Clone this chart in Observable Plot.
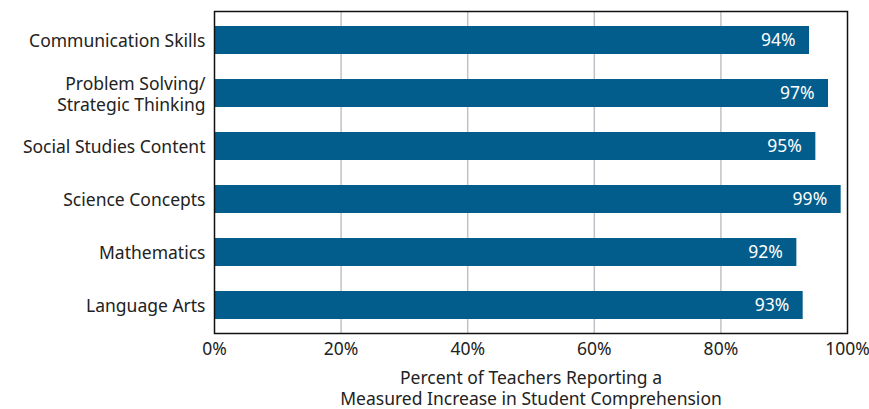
<!DOCTYPE html>
<html>
<head>
<meta charset="utf-8">
<script src="https://cdn.jsdelivr.net/npm/d3@7"></script>
<script src="https://cdn.jsdelivr.net/npm/@observablehq/plot@0.6"></script>
<style>
  html, body { margin: 0; padding: 0; background: #fff; }
  #chart svg { display: block; }
</style>
</head>
<body>
<div id="chart"></div>
<script>
const categories = [
  "Communication Skills",
  "Problem Solving/\nStrategic Thinking",
  "Social Studies Content",
  "Science Concepts",
  "Mathematics",
  "Language Arts"
];
const values = [94, 97, 95, 99, 92, 93];
const xTicks = [0, 20, 40, 60, 80, 100];
const xLabel = "Percent of Teachers Reporting a\nMeasured Increase in Student Comprehension";

const data = categories.map((c, i) => ({category: c, value: values[i]}));
const FS = 17.5;

const chart = Plot.plot({
  width: 869,
  height: 409,
  marginLeft: 214,
  marginRight: 22,
  marginTop: 11,
  marginBottom: 76,
  style: {fontFamily: "'Noto Sans', sans-serif", fontSize: FS + "px", color: "#222", background: "#fff", overflow: "visible"},
  x: {domain: [0, 100]},
  y: {domain: categories, paddingInner: 0.48, paddingOuter: 0.24},
  marks: [
    Plot.gridX(xTicks.slice(1, -1), {stroke: "#bfc3c7", strokeOpacity: 1, strokeWidth: 1.5}),
    Plot.barX(data, {x: "value", y: "category", fill: "#035d8c"}),
    Plot.text(data, {x: "value", y: "category", text: d => d.value + "%", textAnchor: "end", dx: -14, fill: "white", fontSize: FS}),
    Plot.frame({stroke: "#111", strokeWidth: 1.5}),
    Plot.axisY({tickSize: 0, tickPadding: 9, label: null, fontSize: FS, lineHeight: 1.2}),
    Plot.axisX({ticks: xTicks, tickSize: 0, tickPadding: 9, tickFormat: d => d + "%", fontSize: FS, label: null}),
    Plot.text([xLabel], {frameAnchor: "bottom", dy: 36, lineAnchor: "top", lineHeight: 1.2, fontSize: FS, fill: "#222"})
  ]
});
document.getElementById("chart").appendChild(chart);
</script>
</body>
</html>
